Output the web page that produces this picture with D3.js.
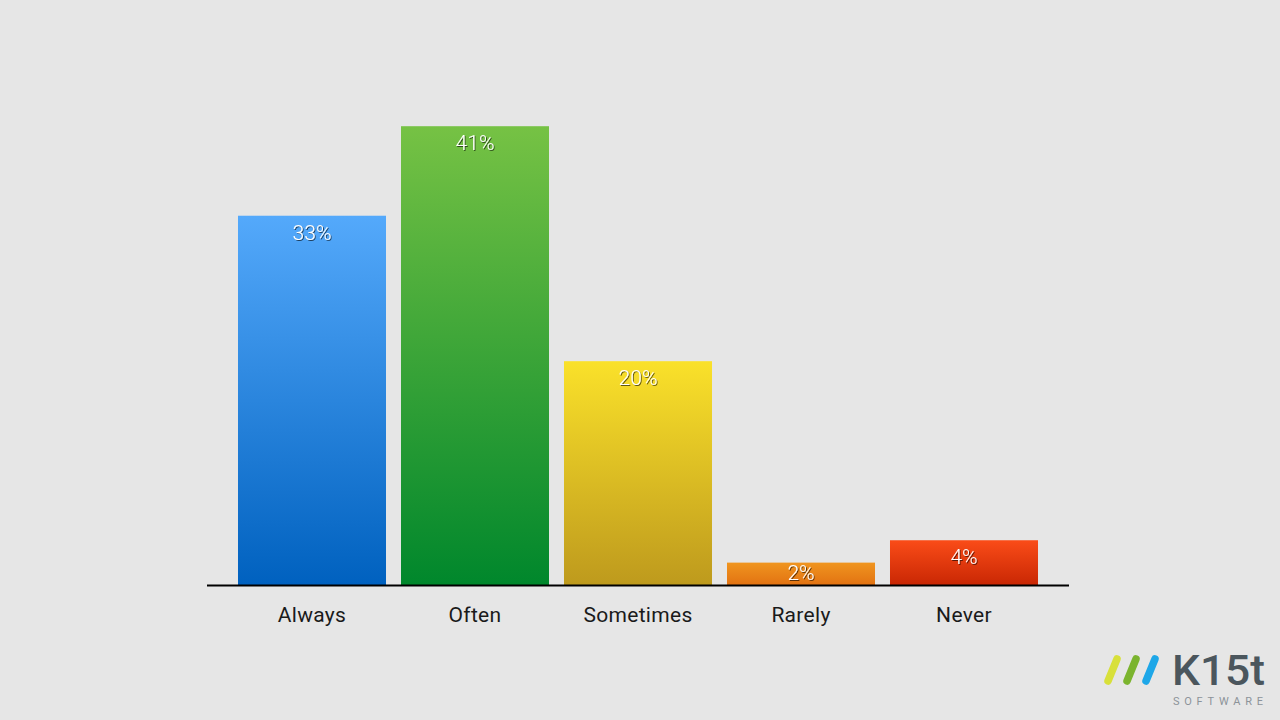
<!DOCTYPE html>
<html>
<head>
<meta charset="utf-8">
<script src="https://cdn.jsdelivr.net/npm/d3@7"></script>
<style>
html,body{margin:0;padding:0;background:#e6e6e6;}
svg{display:block;}
</style>
</head>
<body>
<script>
const categories = ["Always", "Often", "Sometimes", "Rarely", "Never"];
const values = [33, 41, 20, 2, 4];
const valueLabels = ["33%", "41%", "20%", "2%", "4%"];
const topColors = ["#54a9fb", "#76c244", "#fae12a", "#f0951f", "#fa4c18"];
const bottomColors = ["#0061bf", "#00872c", "#be9a1d", "#e27212", "#c92704"];

const W = 1280, H = 720;
const svg = d3.select("body").append("svg").attr("width", W).attr("height", H);
svg.append("rect").attr("width", W).attr("height", H).attr("fill", "#e6e6e6");

const x = d3.scaleBand().domain(categories).range([230.5, 1045.5]).paddingInner(0.092).paddingOuter(0.046);
const y = d3.scaleLinear().domain([0, 50]).range([585, 25.5]);

const defs = svg.append("defs");
categories.forEach((c, i) => {
  const g = defs.append("linearGradient").attr("id", "g" + i).attr("x1", 0).attr("y1", 0).attr("x2", 0).attr("y2", 1);
  g.append("stop").attr("offset", "0%").attr("stop-color", topColors[i]);
  g.append("stop").attr("offset", "100%").attr("stop-color", bottomColors[i]);
});
const f = defs.append("filter").attr("id", "sh").attr("x", "-20%").attr("y", "-20%").attr("width", "140%").attr("height", "140%");
f.append("feDropShadow").attr("dx", 1).attr("dy", 1).attr("stdDeviation", 0.3).attr("flood-color", "#000").attr("flood-opacity", 0.6);

const data = categories.map((c, i) => ({c, v: values[i], l: valueLabels[i], i}));

svg.selectAll("rect.bar").data(data).join("rect").attr("class", "bar")
  .attr("x", d => x(d.c)).attr("width", x.bandwidth())
  .attr("y", d => y(d.v)).attr("height", d => y(0) - y(d.v))
  .attr("fill", d => `url(#g${d.i})`);

svg.selectAll("text.val").data(data).join("text").attr("class", "val")
  .attr("x", d => x(d.c) + x.bandwidth() / 2).attr("y", d => Math.min(y(d.v) + 24, y(0) - 5))
  .attr("text-anchor", "middle").attr("fill", "#ffffff")
  .attr("font-family", "Roboto, sans-serif").attr("font-weight", 300).attr("font-size", 21)
  .attr("filter", "url(#sh)")
  .text(d => d.l);

// axis
const axis = d3.axisBottom(x).tickSize(0).tickPadding(22);
const ag = svg.append("g").attr("transform", "translate(0,585)").call(axis);
ag.select(".domain").remove();
ag.selectAll("text").attr("font-family", "Roboto, sans-serif").attr("font-size", 21).attr("fill", "#1a1a1a").attr("letter-spacing", 0.3);
svg.append("line").attr("x1", 207).attr("x2", 1069).attr("y1", 585.5).attr("y2", 585.5).attr("stroke", "#000").attr("stroke-width", 2);

// logo
const logo = svg.append("g");
const strokes = [["#d8e03a", 1117, 1108], ["#7bb42e", 1136, 1127], ["#1ea7e8", 1155, 1146]];
strokes.forEach(s => {
  logo.append("line").attr("x1", s[1]).attr("y1", 659).attr("x2", s[2]).attr("y2", 681)
    .attr("stroke", s[0]).attr("stroke-width", 7.5).attr("stroke-linecap", "round");
});
logo.append("text").attr("x", 1172).attr("y", 685).attr("fill", "#4b565d")
  .attr("font-family", "Roboto, sans-serif").attr("font-weight", 500).attr("font-size", 43)
  .attr("textLength", 93).attr("lengthAdjust", "spacingAndGlyphs").text("K15t");
logo.append("text").attr("x", 1173).attr("y", 705).attr("fill", "#8c9399")
  .attr("font-family", "Roboto, sans-serif").attr("font-weight", 400).attr("font-size", 11)
  .attr("textLength", 90).attr("lengthAdjust", "spacing").text("SOFTWARE");
</script>
</body>
</html>
